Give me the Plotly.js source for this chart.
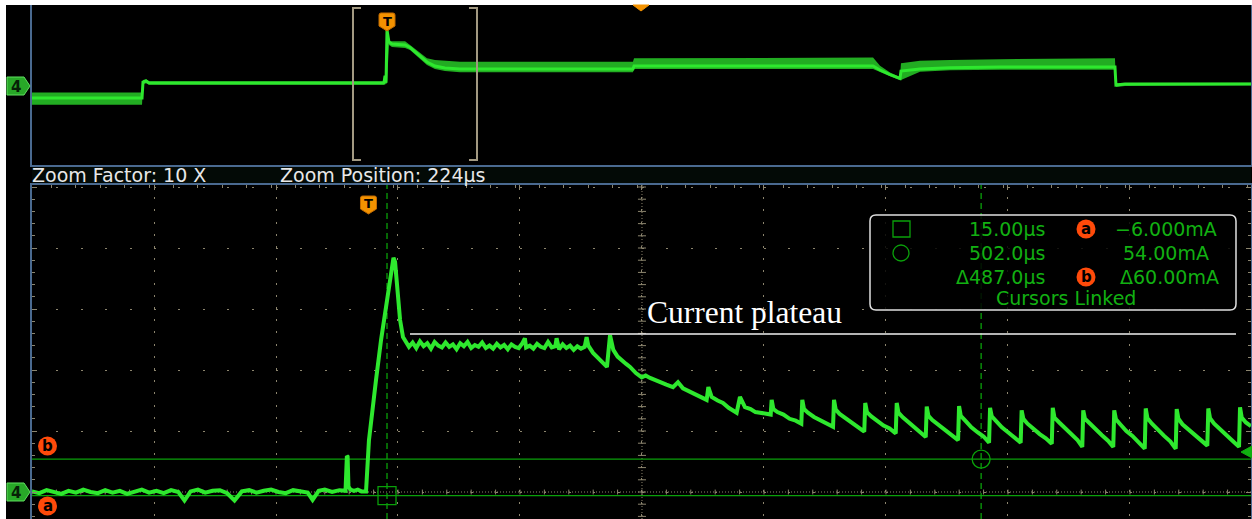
<!DOCTYPE html>
<html><head><meta charset="utf-8">
<script src="https://cdn.plot.ly/plotly-3.0.1.min.js"></script>
<style>html,body{margin:0;padding:0;background:#fff;} #plot{width:1252px;height:519px;}</style>
</head><body><div id="plot"></div>
<script>
// ---------- DATA ----------
// Lower (zoomed) window: time in µs (trigger = 0), current in mA
const zoomT = [-276,-270,-264,-258,-252,-246,-240,-234,-228,-222,-216,-210,-204,-198,-192,-186,-180,-174,-168,-162,-156,-151,-146,-140,-134,-128,-122,-116,-110,-104,-98,-92,-86,-80,-74,-68,-62,-56,-50,-46,-41,-36,-30,-24,-19,
 -17.9,-17.3,-16.6,-15,-12,-9,-6,-3.5,-2.2,
 0.2,2.7,6.0,10.1,14.2,17.5,20.3,21.6,23.0,25.7,28.1,31.1,
 33,36,39,42,45,48,51,54,57,60,63,66,69,72,75,78,81,84,87,90,93,96,99,102,105,108,111,114,117,120,123,126,128,129,132,135,138,141,144,147,150,153,154,156,159,162,165,168,171,174,177,
 178.6,180,183.9,188,192,195.3,197.8,200.5,204,208.4,211,214.2,219,223.8,227,230.6,235,238.8,244,249.4,253.5,257.6,262,265.8,270,274,277,278.4,281.1,286,290.4,295,298,301.6,304.3,308.4,313,317,320.7,325,329.5,
 330.3,331.7,335,340,345,350,354.6,
 355.4,356.8,360,365,370,375,380.6,
 381.4,382.8,386,391,396,401,406.2,
 407.0,408.4,412,417,422,427,432,
 432.8,434.2,438,443,448,452,456.6,
 457.4,458.8,462,467,472,477,483.1,
 483.9,485.3,489,494,499,504,508.5,
 509.3,510.7,514,519,524,529,534.4,
 535.2,536.6,540,545,550,555,559.9,
 560.7,562.1,566,571,576,581,584.9,
 585.7,587.1,591,596,601,606,610.3,
 611.1,612.5,616,621,626,631,636.1,
 636.9,638.3,642,647,652,657,661.5,
 662.3,663.7,667,672,677,682,687.4,
 688.2,689.6,693,698,703,708,713.4,
 714.2,715.6,719,723.2];
const zoomI = [1,-2,3,0,-3,2,-1,4,0,-2,3,-1,2,-3,1,4,-1,2,-2,3,0,-14,1,4,-1,2,3,-2,-14,1,3,-1,2,4,0,-2,3,1,-1,-13,2,4,0,3,2,
 59,58,9,4,2,4,1,2,1,
 85,134,184,249,307,348,384,377,348,282,254,244,
 238,245,236,247,239,244,235,246,240,237,245,238,242,234,244,239,246,236,241,238,245,236,240,235,243,237,241,234,242,238,236,244,252,237,240,235,243,238,236,246,237,239,252,234,242,236,240,233,239,235,238,
 254,240,228,220,213,205,257,233,222,213,210,205,195,188,191,187,183,179,176,172,180,170,166,162,159,154,151,172,156,150,146,138,134,130,156,139,136,131,130,128,127,
 151,136,131,127,120,117,112,
 151,136,130,123,118,112,107,
 151,135,128,121,114,106,99,
 146,131,124,116,109,104,96,
 146,130,122,113,106,99,90,
 140,125,118,110,102,96,85,
 141,125,117,106,98,91,81,
 138,124,116,106,98,90,81,
 134,120,112,103,95,88,79,
 138,122,114,104,95,85,74,
 134,120,112,102,93,84,74,
 134,119,111,100,92,82,71,
 137,121,112,101,92,83,71,
 136,120,111,102,93,85,76,
 137,121,112,102,93,84,74,
 139,122,114,108];

// Upper (overview) window: time in µs, mean level and noise envelope in mA
const overT  = [-2910,-2008,-2000,-1975,-1950,-713,-25,-16,-8,0,16,41,148,189,270,328,393,475,598,2016,2025,3984,4041,4123,4205,4213,4369,4615,5025,5967,5975,6049,7082];
const overI  = [-78,-78,18,24,12,12,12,55,14,330,258,246,240,225,174,138,114,102,96,96,114,114,90,62,40,84,96,104,108,108,0,6,6];
const overHi = [-45,-45,30,34,22,22,22,60,22,330,264,262,262,240,190,160,150,145,140,140,160,165,115,75,48,130,145,150,155,160,10,12,14];
const overLo = [-118,-118,5,10,2,2,2,10,4,14,240,228,222,210,160,120,96,84,76,76,96,96,78,52,28,30,80,88,92,92,-12,-6,-2];

// Cursors
const cursorT = [15.00, 502.0];   // µs
const cursorI = [-6.000, 54.00];  // mA
const zoomFactor = 10;
const zoomPosition = 224;         // µs

// ---------- LAYOUT HELPERS ----------
const W=1252,H=519,L=32,R=1,T=5,B=0;
const PW=W-L-R, PH=H-T-B;
const px=x=>(x-L)/PW, py=y=>(H-B-y)/PH;
const P=(x,y)=>px(x).toFixed(5)+','+py(y).toFixed(5);

const WAVE='#2ee82e', CUR='#0aa00a', GRID='#8c856e', FRAME='#4a6a90', ORANGE='#f39200', RED='#ff4a0a';

const shapes=[], ann=[];
function rectPx(x0,y0,x1,y1,fill,layer){shapes.push({type:'rect',xref:'paper',yref:'paper',x0:px(x0),x1:px(x1),y0:py(y1),y1:py(y0),fillcolor:fill,line:{width:0},layer:layer||'above'});}
function pathPx(d,fill,lc,lw){shapes.push({type:'path',xref:'paper',yref:'paper',path:d,fillcolor:fill||'rgba(0,0,0,0)',line:{color:lc||'rgba(0,0,0,0)',width:lw||0},layer:'above'});}
function text(x,y,s,o){ann.push(Object.assign({xref:'paper',yref:'paper',x:px(x),y:py(y),text:s,showarrow:false,xanchor:'left',yanchor:'middle',font:{family:'DejaVu Sans',size:19,color:'#e8e8e8'}},o||{}));}

// white margins
rectPx(0,-10,W+10,5,'#ffffff');
rectPx(-10,0,6,H,'#ffffff');
// strip between panels
rectPx(32,166,1251,184,'#030a06','below');

// zoom bracket in overview
pathPx(`M${P(361,8)} L${P(353,8)} L${P(353,160)} L${P(361,160)} M${P(469,8)} L${P(477,8)} L${P(477,160)} L${P(469,160)}`,null,'#a39a82',2);
// orange position triangle at top
pathPx(`M${P(633,5)} L${P(649,5)} L${P(641,11)} Z`,ORANGE,ORANGE,1);

// trigger markers
function trig(cx,ytop){
  const x0=cx-8,x1=cx+8,y0=ytop,y1=ytop+13;
  pathPx(`M${P(x0,y0+2)} Q${P(x0,y0)} ${P(x0+2,y0)} L${P(x1-2,y0)} Q${P(x1,y0)} ${P(x1,y0+2)} L${P(x1,y1)} L${P(cx,y1+5)} L${P(x0,y1)} Z`,ORANGE,'#c06a00',1);
  text(cx,y0+8,'<b>T</b>',{xanchor:'center',font:{family:'DejaVu Sans',size:13,color:'#000'}});
}
trig(387,13); trig(368.5,196);

// channel 4 markers
function ch4(cy){
  pathPx(`M${P(7,cy-9)} L${P(24,cy-9)} L${P(30,cy)} L${P(24,cy+9)} L${P(7,cy+9)} Z`,'#28a828','#5fe05f',1);
  text(16,cy+1,'<b>4</b>',{xanchor:'center',font:{family:'DejaVu Sans',size:15,color:'#062006'}});
}
ch4(86); ch4(492);

// orange cursor badges
function badge(cx,cy,s){
  shapes.push({type:'circle',xref:'paper',yref:'paper',x0:px(cx-9.5),x1:px(cx+9.5),y0:py(cy+9.5),y1:py(cy-9.5),fillcolor:RED,line:{width:0},layer:'above'});
  text(cx,cy,'<b>'+s+'</b>',{xanchor:'center',font:{family:'DejaVu Sans',size:15,color:'#000'}});
}
badge(47.5,446,'b'); badge(47.5,506,'a');

// measurement box
const bx0=870,bx1=1236,by0=215,by1=310,r=6;
pathPx(`M${P(bx0+r,by0)} L${P(bx1-r,by0)} Q${P(bx1,by0)} ${P(bx1,by0+r)} L${P(bx1,by1-r)} Q${P(bx1,by1)} ${P(bx1-r,by1)} L${P(bx0+r,by1)} Q${P(bx0,by1)} ${P(bx0,by1-r)} L${P(bx0,by0+r)} Q${P(bx0,by0)} ${P(bx0+r,by0)} Z`,'rgba(0,0,0,0.85)','#e0e0e0',1.5);
shapes.push({type:'rect',xref:'paper',yref:'paper',x0:px(893),x1:px(910),y0:py(237),y1:py(221),line:{color:CUR,width:1.3},layer:'above'});
shapes.push({type:'circle',xref:'paper',yref:'paper',x0:px(893),x1:px(909),y0:py(261),y1:py(245),line:{color:CUR,width:1.3},layer:'above'});
badge(1086,229,'a'); badge(1086,277,'b');
const gfont={family:'DejaVu Sans',size:19,color:'#12b012'};
const mu='\u00b5s';
text(1047,229,cursorT[0].toFixed(2)+mu,{xanchor:'right',font:gfont});
text(1047,253,cursorT[1].toFixed(1)+mu,{xanchor:'right',font:gfont});
text(1047,277,'\u0394'+(cursorT[1]-cursorT[0]).toFixed(1)+mu,{xanchor:'right',font:gfont});
text(1219,229,'\u2212'+Math.abs(cursorI[0]).toFixed(3)+'mA',{xanchor:'right',font:gfont});
text(1211,253,cursorI[1].toFixed(2)+'mA',{xanchor:'right',font:gfont});
text(1221,277,'\u0394'+(cursorI[1]-cursorI[0]).toFixed(2)+'mA',{xanchor:'right',font:gfont});
text(1066,298,'Cursors Linked',{xanchor:'center',font:gfont});

// zoom info
text(30,175,'Zoom Factor: '+zoomFactor+' X');
text(278,175,'Zoom Position: '+zoomPosition+'\u00b5s');

// current plateau annotation
pathPx(`M${P(410,334)} L${P(1236,334)}`,null,'#f0f0f0',1.5);
text(645,312,'Current plateau',{font:{family:'Liberation Serif',size:31.5,color:'#ffffff'}});

// right edge marker
pathPx(`M${P(1252,446)} L${P(1241,452)} L${P(1252,458)} Z`,'#10b010','#10b010',1);

// graticule centre lines (lower window)
const cx0=zoomPosition;
shapes.push({type:'line',xref:'x',yref:'y',x0:cx0,x1:cx0,y0:-44.26,y1:503.3,line:{color:GRID,width:1,dash:'1px,2px'},layer:'below'});
shapes.push({type:'line',xref:'x',yref:'y',x0:-276,x1:723.2,y0:0,y1:0,line:{color:GRID,width:1,dash:'1px,2px'},layer:'below'});
for(let v=-40; v<=500; v+=20){
  shapes.push({type:'line',xref:'x',yref:'y',x0:cx0-3.3,x1:cx0+3.3,y0:v,y1:v,line:{color:GRID,width:1},layer:'below'});
}
for(let t=-276; t<=724; t+=20){
  shapes.push({type:'line',xref:'x',yref:'y',x0:t,x1:t,y0:-4,y1:4,line:{color:GRID,width:1},layer:'below'});
}
// cursor lines
cursorT.forEach(t=>shapes.push({type:'line',xref:'x',yref:'y',x0:t,x1:t,y0:-44.26,y1:503.3,line:{color:CUR,width:1.3,dash:'6px,4px'},layer:'below'}));
cursorI.forEach(v=>shapes.push({type:'line',xref:'x',yref:'y',x0:-276,x1:723.2,y0:v,y1:v,line:{color:CUR,width:1.3},layer:'below'}));

const traces=[
 {x:overT,y:overHi,xaxis:'x2',yaxis:'y2',mode:'lines',line:{width:0,color:WAVE},hoverinfo:'skip',showlegend:false},
 {x:overT,y:overLo,xaxis:'x2',yaxis:'y2',mode:'lines',line:{width:0,color:WAVE},fill:'tonexty',fillcolor:'rgba(44,220,44,0.78)',hoverinfo:'skip',showlegend:false},
 {x:overT,y:overI,xaxis:'x2',yaxis:'y2',mode:'lines',line:{width:3,color:WAVE},showlegend:false},
 {x:zoomT,y:zoomI,xaxis:'x',yaxis:'y',mode:'lines',line:{width:4,color:WAVE},showlegend:false},
 {x:[cursorT[0]],y:[cursorI[0]],xaxis:'x',yaxis:'y',mode:'markers',marker:{symbol:'square-open',size:18,color:CUR,line:{width:1.3,color:CUR}},showlegend:false},
 {x:[cursorT[1]],y:[cursorI[1]],xaxis:'x',yaxis:'y',mode:'markers',marker:{symbol:'circle-open',size:18,color:CUR,line:{width:1.3,color:CUR}},showlegend:false}
];

const layout={
 width:W,height:H,margin:{l:L,r:R,t:T,b:B,pad:0},
 paper_bgcolor:'#000',plot_bgcolor:'#000',showlegend:false,
 xaxis:{domain:[0,1],range:[-276,723.2],anchor:'y',side:'top',showline:true,linecolor:FRAME,linewidth:2,
   showgrid:true,gridcolor:GRID,griddash:'2px,10.2px',gridwidth:1,tick0:-276,dtick:100,ticks:'inside',ticklen:5,tickcolor:GRID,
   showticklabels:false,zeroline:false,minor:{dtick:20,ticks:'inside',ticklen:3,tickcolor:GRID,showgrid:false},fixedrange:true},
 yaxis:{domain:[0,(H-185)/PH],range:[-44.26,503.3],anchor:'x',showline:true,linecolor:FRAME,linewidth:2,mirror:'ticks',
   showgrid:true,gridcolor:GRID,griddash:'2px,22.4px',gridwidth:1,tick0:0,dtick:100,ticks:'inside',ticklen:5,tickcolor:GRID,
   showticklabels:false,zeroline:false,minor:{dtick:20,ticks:'inside',ticklen:3,tickcolor:GRID,showgrid:false},fixedrange:true},
 xaxis2:{domain:[0,1],range:[-2909.8,7082],anchor:'y2',showline:true,linecolor:FRAME,linewidth:2,showgrid:false,ticks:'',showticklabels:false,zeroline:false,fixedrange:true},
 yaxis2:{domain:[(H-165)/PH,1],range:[-480,480],anchor:'x2',showline:true,mirror:true,linecolor:FRAME,linewidth:2,showgrid:false,ticks:'',showticklabels:false,zeroline:false,fixedrange:true},
 shapes:shapes, annotations:ann
};
Plotly.newPlot('plot',traces,layout,{staticPlot:true,displayModeBar:false});
</script></body></html>
